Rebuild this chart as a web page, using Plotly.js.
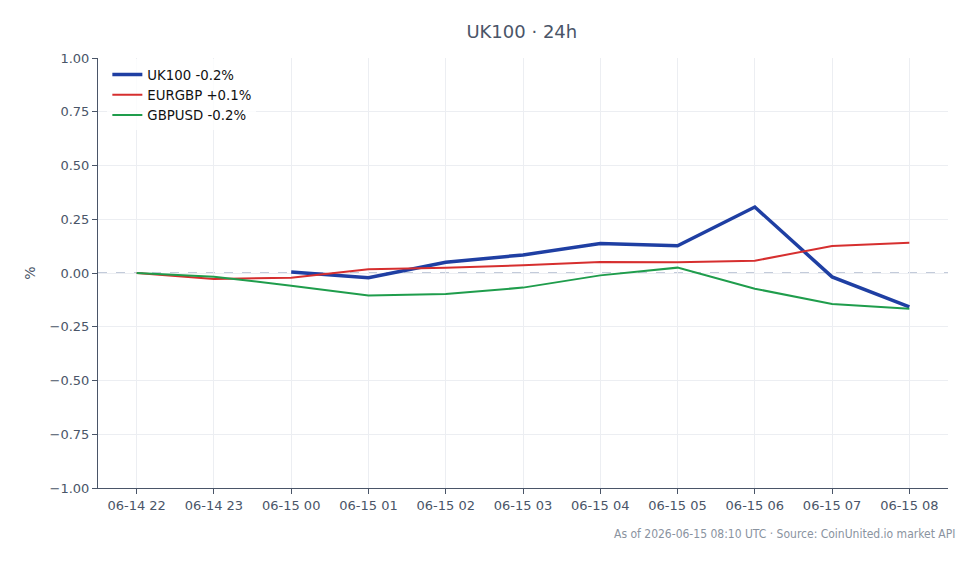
<!DOCTYPE html>
<html>
<head>
<meta charset="utf-8">
<script src="https://cdn.plot.ly/plotly-3.0.1.min.js"></script>
<style>
  html, body { margin: 0; padding: 0; background: #ffffff; }
  #chart { width: 979px; height: 564px; }
</style>
</head>
<body>
<div id="chart"></div>
<script>
// Hourly buckets over the last 24h window
const hours = ["06-14 22", "06-14 23", "06-15 00", "06-15 01", "06-15 02", "06-15 03",
               "06-15 04", "06-15 05", "06-15 06", "06-15 07", "06-15 08"];

// Percent change from the first available print of each instrument
const uk100Hours = hours.slice(2);
const uk100 = [0.005, -0.022, 0.05, 0.084, 0.137, 0.127, 0.307, -0.018, -0.157];
const eurgbp = [0.0, -0.028, -0.022, 0.017, 0.025, 0.036, 0.051, 0.050, 0.057, 0.126, 0.141];
const gbpusd = [0.0, -0.017, -0.059, -0.105, -0.098, -0.068, -0.011, 0.025, -0.073, -0.144, -0.166];

const yTicks = [-1, -0.75, -0.5, -0.25, 0, 0.25, 0.5, 0.75, 1];
const yTickText = yTicks.map(v => (v < 0 ? "\u2212" : "") + Math.abs(v).toFixed(2));

function lastLabel(name, arr) {
  const v = arr[arr.length - 1];
  const r = Math.round(v * 10) / 10;
  return name + " " + (r > 0 ? "+" : (r < 0 ? "-" : "")) + Math.abs(r).toFixed(1) + "%";
}

const traces = [
  { x: uk100Hours, y: uk100, name: lastLabel("UK100", uk100), type: "scatter", mode: "lines",
    line: { color: "#1f3fa3", width: 3.5 } },
  { x: hours, y: eurgbp, name: lastLabel("EURGBP", eurgbp), type: "scatter", mode: "lines",
    line: { color: "#d62f2f", width: 2 } },
  { x: hours, y: gbpusd, name: lastLabel("GBPUSD", gbpusd), type: "scatter", mode: "lines",
    line: { color: "#1f9d4c", width: 2 } }
];

const textColor = "#4a5568";
const fontFamily = "DejaVu Sans, Verdana, sans-serif";

const layout = {
  width: 979, height: 564,
  margin: { l: 98, r: 31, t: 58, b: 76 },
  paper_bgcolor: "#ffffff", plot_bgcolor: "#ffffff",
  font: { family: fontFamily, size: 13, color: textColor },
  title: { text: "UK100 \u00b7 24h", x: 0.533, xanchor: "center", y: 0.943, yanchor: "middle",
           font: { size: 18, color: textColor, family: fontFamily } },
  showlegend: true,
  legend: { x: 0.011, y: 0.997, xanchor: "left", yanchor: "top", bgcolor: "rgba(255,255,255,0.8)",
            font: { size: 13.3, color: "#111111", family: fontFamily }, tracegroupgap: 0,
            itemwidth: 30 },
  xaxis: {
    type: "category", categoryorder: "array", categoryarray: hours,
    range: [-0.5, 10.5],
    showgrid: true, gridcolor: "#eceef2", gridwidth: 1,
    showline: true, linecolor: textColor, linewidth: 1,
    ticks: "outside", ticklen: 5, tickcolor: textColor,
    tickfont: { size: 13, color: textColor },
    zeroline: false, fixedrange: true
  },
  yaxis: {
    range: [-1, 1], tickvals: yTicks, ticktext: yTickText,
    showgrid: true, gridcolor: "#eceef2", gridwidth: 1,
    showline: true, linecolor: textColor, linewidth: 1,
    ticks: "outside", ticklen: 5, tickcolor: textColor,
    tickfont: { size: 13, color: textColor },
    zeroline: false,
    title: { text: "%", standoff: 10, font: { size: 14, color: textColor } }
  },
  shapes: [
    { type: "line", xref: "paper", x0: 0, x1: 1, yref: "y", y0: 0, y1: 0,
      line: { color: "#8797b5", width: 1, dash: "dash" }, layer: "below" }
  ],
  annotations: [
    { text: "As of 2026-06-15 08:10 UTC \u00b7 Source: CoinUnited.io market API",
      xref: "paper", yref: "paper", x: 1.01, y: -0.107, xanchor: "right", yanchor: "middle",
      showarrow: false,
      font: { size: 12, color: "#8a93a0", family: "DejaVu Sans Condensed, Liberation Sans Narrow, sans-serif" } }
  ]
};

Plotly.newPlot("chart", traces, layout, { displayModeBar: false, staticPlot: true });
</script>
</body>
</html>
